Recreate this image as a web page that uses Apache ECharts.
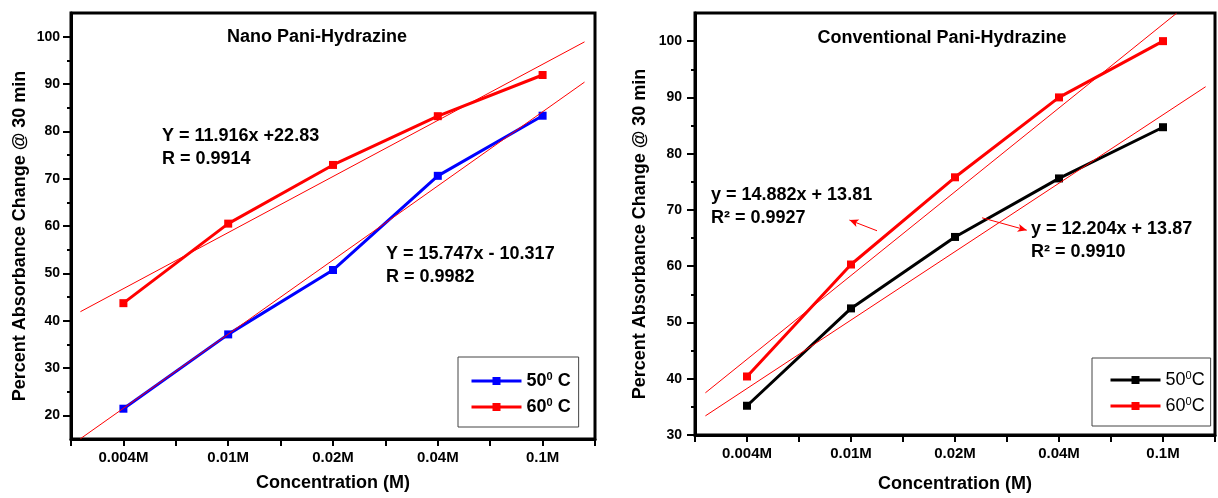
<!DOCTYPE html>
<html><head><meta charset="utf-8">
<script src="https://cdn.jsdelivr.net/npm/echarts@6/dist/echarts.min.js"></script>
<style>html,body{margin:0;padding:0;background:#fff}#c{width:1218px;height:498px}</style>
</head><body><div id="c"></div><script>
// ---- data ----
const categories = ['0.004M', '0.01M', '0.02M', '0.04M', '0.1M'];
const nano50 = [21.4, 37.1, 50.7, 70.6, 83.3];
const nano60 = [43.7, 60.5, 72.9, 83.2, 91.9];
const nanoFit50 = [[-0.41, 15.06], [4.40, 90.4]];
const nanoFit60 = [[-0.41, 41.9], [4.40, 98.9]];
const conv50 = [35.2, 52.5, 65.2, 75.6, 84.7];
const conv60 = [40.4, 60.3, 75.8, 90.0, 100.0];
const convFit50 = [[-0.40, 33.4], [4.41, 91.9]];
const convFit60 = [[-0.40, 37.5], [4.13, 104.95]];
const arrow60 = [[1.25, 66.3], [0.985, 68.2]];
const arrow50 = [[2.26, 68.6], [2.69, 66.4]];
const leftMajor = [20, 30, 40, 50, 60, 70, 80, 90, 100];
const leftMinor = [25, 35, 45, 55, 65, 75, 85, 95];
const rightMajor = [30, 40, 50, 60, 70, 80, 90, 100];
const rightMinor = [35, 45, 55, 65, 75, 85, 95];
const names = { l50: '50⁰ C', l60: '60⁰ C', r50: '50⁰C', r60: '60⁰C' };

const FF = 'Liberation Sans, Arial, sans-serif';
const chart = echarts.init(document.getElementById('c'));
const idx = a => a.map((v, i) => [i, v]);

function xAxis(g, gap) {
  return {
    gridIndex: g, type: 'value', min: -0.5, max: 4.5, interval: 0.5,
    name: 'Concentration (M)', nameLocation: 'middle', nameGap: gap,
    nameTextStyle: { fontFamily: FF, fontWeight: 'bold', fontSize: 18, color: '#000' },
    axisLine: { show: true, onZero: false, lineStyle: { color: '#000', width: 3 } },
    axisTick: { show: true, length: 7, lineStyle: { color: '#000', width: 2 } },
    axisLabel: { margin: 11, fontFamily: FF, fontWeight: 'bold', fontSize: 15, color: '#000',
      formatter: v => (Math.abs(v - Math.round(v)) < 1e-6 && v >= 0 && v <= 4) ? categories[Math.round(v)] : '' },
    splitLine: { show: false }
  };
}
function yAxes(g, min, major, minor, gap, lm) {
  return [{
    gridIndex: g, type: 'value', min: min, max: 105,
    name: 'Percent Absorbance Change @ 30 min', nameLocation: 'middle', nameGap: gap,
    nameTextStyle: { fontFamily: FF, fontWeight: 'bold', fontSize: 18, color: '#000', padding: [0, 20, 0, 0] },
    axisLine: { show: true, onZero: false, lineStyle: { color: '#000', width: 3 } },
    axisTick: { show: true, customValues: major, length: 8, lineStyle: { color: '#000', width: 2 } },
    axisLabel: { customValues: major, margin: lm, fontFamily: FF, fontWeight: 'bold', fontSize: 14, color: '#000' },
    splitLine: { show: false }
  }, {
    gridIndex: g, type: 'value', min: min, max: 105, position: 'left',
    axisLine: { show: false, onZero: false },
    axisTick: { show: true, customValues: minor, length: 4, lineStyle: { color: '#000', width: 2 } },
    axisLabel: { show: false }, splitLine: { show: false }
  }];
}
function dataSeries(name, data, color, xi, yi) {
  return { name: name, type: 'line', xAxisIndex: xi, yAxisIndex: yi, data: idx(data),
    symbol: 'rect', symbolSize: 8, color: color, itemStyle: { color: color },
    lineStyle: { color: color, width: 3 }, z: 3 };
}
function fitSeries(name, data, xi, yi, arrow) {
  const s = { name: name, type: 'line', xAxisIndex: xi, yAxisIndex: yi, data: data,
    symbol: 'none', lineStyle: { color: '#ff0000', width: 1 }, z: 4, silent: true };
  if (arrow) {
    s.markLine = { silent: true, symbol: ['none', 'arrow'], symbolSize: [6, 9],
      label: { show: false }, lineStyle: { color: '#ff0000', width: 1, type: 'solid' },
      data: [[{ coord: arrow[0] }, { coord: arrow[1] }]] };
  }
  return s;
}
function legend(left, top, data, bold, fs, pad) {
  return {
    data: data, orient: 'vertical', left: left, top: top, padding: pad, itemGap: 6,
    itemWidth: 50, itemHeight: 10, borderColor: '#444', borderWidth: 1, selectedMode: false,
    lineStyle: { width: 3 },
    textStyle: { fontFamily: FF, fontWeight: bold ? 'bold' : 'normal', fontSize: fs, color: '#000', lineHeight: 20,
      rich: { s: { fontFamily: FF, fontWeight: bold ? 'bold' : 'normal', fontSize: 11, color: '#000', verticalAlign: 'top', lineHeight: 12 } } },
    formatter: n => n.replace('⁰', '{s|0}')
  };
}
function txt(x, y, text, align) {
  return { type: 'text', x: x, y: y, silent: true,
    style: { text: text, font: 'bold 18px ' + FF, fill: '#000', textAlign: align || 'left',
      textVerticalAlign: 'middle', verticalAlign: 'middle' } };
}

const option = {
  animation: false,
  backgroundColor: '#fff',
  grid: [
    { left: 71, top: 13, width: 524, height: 426, show: true, borderColor: '#000', borderWidth: 3 },
    { left: 695, top: 13, width: 521, height: 422, show: true, borderColor: '#000', borderWidth: 3 }
  ],
  xAxis: [xAxis(0, 35), xAxis(1, 40)],
  yAxis: [].concat(yAxes(0, 15, leftMajor, leftMinor, 42, 11), yAxes(1, 30, rightMajor, rightMinor, 46, 13)),
  legend: [
    legend(458, 357, [names.l50, names.l60], true, 18, [14, 8, 10, 12]),
    legend(1092, 358, [names.r50, names.r60], false, 18, [12, 6, 10, 17])
  ],
  series: [
    dataSeries(names.l50, nano50, '#0000ff', 0, 0),
    dataSeries(names.l60, nano60, '#ff0000', 0, 0),
    fitSeries('fit50L', nanoFit50, 0, 0),
    fitSeries('fit60L', nanoFit60, 0, 0),
    dataSeries(names.r50, conv50, '#000000', 1, 2),
    dataSeries(names.r60, conv60, '#ff0000', 1, 2),
    fitSeries('fit50R', convFit50, 1, 2, arrow50),
    fitSeries('fit60R', convFit60, 1, 2, arrow60)
  ],
  graphic: [
    txt(317, 37, 'Nano Pani-Hydrazine', 'center'),
    txt(162, 136, 'Y = 11.916x +22.83'),
    txt(162, 159, 'R = 0.9914'),
    txt(386, 254, 'Y = 15.747x - 10.317'),
    txt(386, 277, 'R = 0.9982'),
    txt(942, 38, 'Conventional Pani-Hydrazine', 'center'),
    txt(711, 195, 'y = 14.882x + 13.81'),
    txt(711, 218, 'R² = 0.9927'),
    txt(1031, 229, 'y = 12.204x + 13.87'),
    txt(1031, 252, 'R² = 0.9910')
  ]
};
chart.setOption(option);
</script></body></html>
